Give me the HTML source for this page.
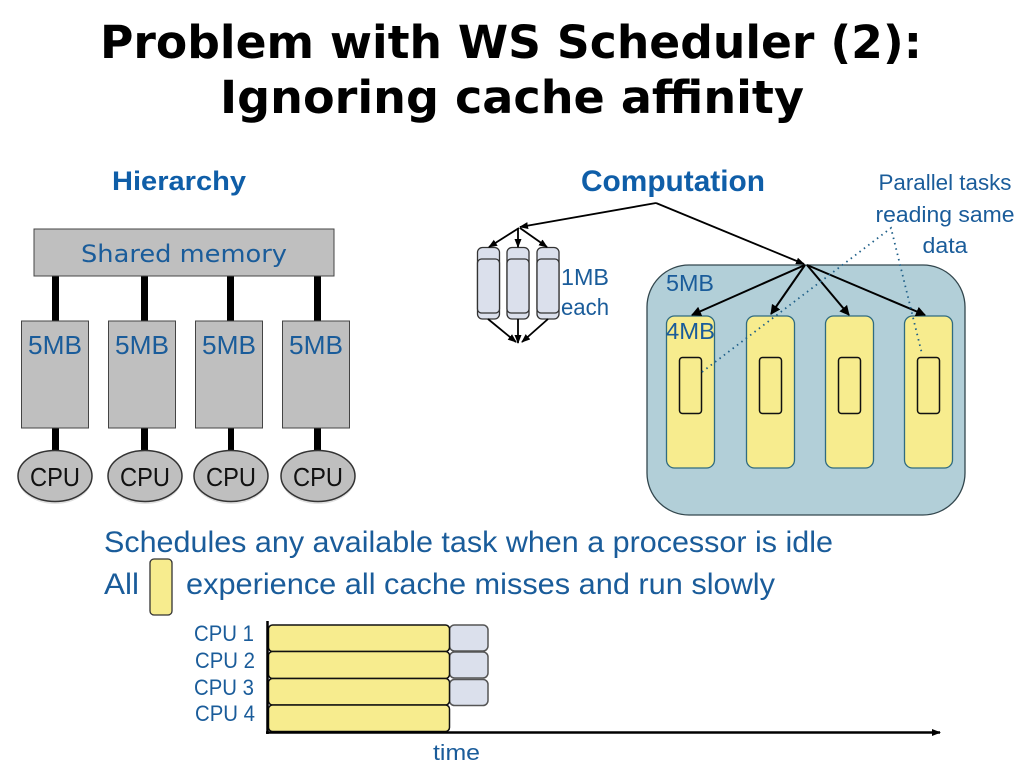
<!DOCTYPE html>
<html lang="en"><head><meta charset="utf-8"><title>Problem with WS Scheduler (2)</title>
<style>
html,body{margin:0;padding:0;background:#fff;width:1024px;height:768px;overflow:hidden}
svg{display:block}
text{font-family:"Liberation Sans",sans-serif;fill:#1a5c9a}
.t{font-family:"DejaVu Sans",sans-serif;font-weight:bold;font-size:45px;fill:#000}
.k{fill:#111}
</style></head><body>
<svg width="1024" height="768" viewBox="0 0 1024 768" xmlns="http://www.w3.org/2000/svg">
<defs>
<marker id="a" markerWidth="12" markerHeight="12" refX="9" refY="5" orient="auto" markerUnits="userSpaceOnUse"><path d="M0 0L10 5L0 10z" fill="#000"/></marker>
<marker id="s" markerWidth="10" markerHeight="10" refX="8" refY="4" orient="auto" markerUnits="userSpaceOnUse"><path d="M0 0.500L9 4L0 7.500z" fill="#000"/></marker>
</defs>
<text class="t" x="100" y="58" textLength="822" lengthAdjust="spacingAndGlyphs">Problem with WS Scheduler (2):</text>
<text class="t" x="220" y="113" textLength="584" lengthAdjust="spacingAndGlyphs">Ignoring cache affinity</text>

<text x="112" y="190" font-size="27" font-weight="bold" textLength="134" lengthAdjust="spacingAndGlyphs" style="fill:#0f5ea8">Hierarchy</text>
<text x="581" y="191" font-size="30" font-weight="bold" textLength="184" lengthAdjust="spacingAndGlyphs" style="fill:#0f5ea8">Computation</text>

<!-- Hierarchy -->
<g fill="#000">
<rect x="52" y="276" width="7" height="45"/><rect x="141" y="276" width="7" height="45"/><rect x="227" y="276" width="7" height="45"/><rect x="314" y="276" width="7" height="45"/>
<rect x="52" y="428" width="7" height="23"/><rect x="141" y="428" width="7" height="23"/><rect x="228" y="428" width="6" height="23"/><rect x="314" y="428" width="7" height="23"/>
</g>
<rect x="34" y="229" width="300" height="47" fill="#bfbfbf" stroke="#444" stroke-width="1"/>
<text x="81" y="262" font-size="24" textLength="206" lengthAdjust="spacingAndGlyphs" style="font-family:'DejaVu Sans',sans-serif">Shared memory</text>
<g fill="#bfbfbf" stroke="#444" stroke-width="1">
<rect x="21.500" y="321" width="67" height="107"/><rect x="108.500" y="321" width="67" height="107"/><rect x="195.500" y="321" width="67" height="107"/><rect x="282.500" y="321" width="67" height="107"/>
</g>
<g font-size="26">
<text x="28" y="354" textLength="54" lengthAdjust="spacingAndGlyphs">5MB</text>
<text x="115" y="354" textLength="54" lengthAdjust="spacingAndGlyphs">5MB</text>
<text x="202" y="354" textLength="54" lengthAdjust="spacingAndGlyphs">5MB</text>
<text x="289" y="354" textLength="54" lengthAdjust="spacingAndGlyphs">5MB</text>
</g>
<g fill="#000" opacity=".12">
<ellipse cx="55" cy="478" rx="37" ry="26"/><ellipse cx="145" cy="478" rx="37" ry="26"/><ellipse cx="231" cy="478" rx="37" ry="26"/><ellipse cx="318" cy="478" rx="37" ry="26"/>
</g>
<g fill="#bfbfbf" stroke="#333" stroke-width="1.500">
<ellipse cx="55" cy="476" rx="37" ry="25.500"/><ellipse cx="145" cy="476" rx="37" ry="25.500"/><ellipse cx="231" cy="476" rx="37" ry="25.500"/><ellipse cx="318" cy="476" rx="37" ry="25.500"/>
</g>
<g font-size="26">
<text class="k" x="30" y="486" textLength="50" lengthAdjust="spacingAndGlyphs">CPU</text>
<text class="k" x="120" y="486" textLength="50" lengthAdjust="spacingAndGlyphs">CPU</text>
<text class="k" x="206" y="486" textLength="50" lengthAdjust="spacingAndGlyphs">CPU</text>
<text class="k" x="293" y="486" textLength="50" lengthAdjust="spacingAndGlyphs">CPU</text>
</g>

<!-- Small tasks -->
<g fill="#dbe0ec" stroke="#333" stroke-width="1.300">
<rect x="477.500" y="247.500" width="22" height="71.500" rx="5"/><rect x="507" y="247.500" width="22" height="71.500" rx="5"/><rect x="537" y="247.500" width="22" height="71.500" rx="5"/>
<rect x="477.500" y="259" width="22" height="54" rx="4"/><rect x="507" y="259" width="22" height="54" rx="4"/><rect x="537" y="259" width="22" height="54" rx="4"/>
</g>
<g stroke="#000" stroke-width="1.800" fill="none">
<path d="M656 203L520 227" marker-end="url(#s)"/>
<path d="M519 228L489 247" marker-end="url(#s)"/>
<path d="M518 228V247" marker-end="url(#s)"/>
<path d="M520 228L547 247" marker-end="url(#s)"/>
<path d="M488 319L516 342" marker-end="url(#s)"/>
<path d="M518 319V343" marker-end="url(#s)"/>
<path d="M548 319L522 342" marker-end="url(#s)"/>
</g>
<text x="561" y="285" font-size="23" textLength="48" lengthAdjust="spacingAndGlyphs">1MB</text>
<text x="561" y="315" font-size="23" textLength="48" lengthAdjust="spacingAndGlyphs">each</text>

<!-- Computation -->
<rect x="647" y="265" width="318" height="250" rx="42" fill="#b2cfd8" stroke="#33474e" stroke-width="1.300"/>
<g fill="#f7ec8e" stroke="#2f6b80" stroke-width="1.300">
<rect x="666.500" y="316" width="48" height="152" rx="8"/><rect x="746.500" y="316" width="48" height="152" rx="8"/><rect x="825.500" y="316" width="48" height="152" rx="8"/><rect x="904.500" y="316" width="48" height="152" rx="8"/>
</g>
<g fill="#f7ec8e" stroke="#111" stroke-width="1.500">
<rect x="679.500" y="357.500" width="22" height="56" rx="3"/><rect x="759.500" y="357.500" width="22" height="56" rx="3"/><rect x="838.500" y="357.500" width="22" height="56" rx="3"/><rect x="917.500" y="357.500" width="22" height="56" rx="3"/>
</g>
<text x="666" y="291" font-size="23" textLength="48" lengthAdjust="spacingAndGlyphs">5MB</text>
<text x="666" y="339" font-size="23" textLength="49" lengthAdjust="spacingAndGlyphs">4MB</text>
<g stroke="#000" stroke-width="2" fill="none">
<path d="M656 203L804 264" marker-end="url(#s)" stroke-width="1.800"/>
<path d="M805 265L692 315" marker-end="url(#a)"/>
<path d="M805 265L771 314" marker-end="url(#a)"/>
<path d="M807 265L849 315" marker-end="url(#a)"/>
<path d="M807 265L925 315" marker-end="url(#a)"/>
</g>
<path d="M702 372L891 228L922 354" fill="none" stroke="#1f5f88" stroke-width="1.800" stroke-dasharray="1.500 4"/>
<g font-size="22" text-anchor="middle">
<text x="945" y="190" textLength="133" lengthAdjust="spacingAndGlyphs">Parallel tasks</text>
<text x="945" y="222" textLength="139" lengthAdjust="spacingAndGlyphs">reading same</text>
<text x="945" y="253" textLength="45" lengthAdjust="spacingAndGlyphs">data</text>
</g>

<!-- Body text -->
<text x="104" y="552" font-size="30" textLength="729" lengthAdjust="spacingAndGlyphs">Schedules any available task when a processor is idle</text>
<text x="104" y="594" font-size="30" textLength="35" lengthAdjust="spacingAndGlyphs">All</text>
<rect x="150" y="559" width="22" height="56" rx="4" fill="#f7ec8e" stroke="#333" stroke-width="1.300"/>
<text x="186" y="594" font-size="30" textLength="589" lengthAdjust="spacingAndGlyphs">experience all cache misses and run slowly</text>

<!-- Timeline -->
<g fill="#dbe0ec" stroke="#555" stroke-width="1.500">
<rect x="449.500" y="625" width="38.500" height="26" rx="5"/><rect x="449.500" y="652" width="38.500" height="26" rx="5"/><rect x="449.500" y="679.500" width="38.500" height="26" rx="5"/>
</g>
<g fill="#f7ec8e" stroke="#111" stroke-width="1.500">
<rect x="268.500" y="625" width="181" height="26.500" rx="4"/><rect x="268.500" y="651.500" width="181" height="27" rx="4"/><rect x="268.500" y="678.500" width="181" height="26.500" rx="4"/><rect x="268.500" y="705" width="181" height="26.500" rx="4"/>
</g>
<path d="M267.500 621V734" stroke="#000" stroke-width="2.500"/>
<path d="M266 732.500H940" stroke="#000" stroke-width="2.500" marker-end="url(#s)"/>
<g font-size="22">
<text x="194" y="641" textLength="60" lengthAdjust="spacingAndGlyphs">CPU 1</text>
<text x="195" y="668" textLength="60" lengthAdjust="spacingAndGlyphs">CPU 2</text>
<text x="194" y="695" textLength="60" lengthAdjust="spacingAndGlyphs">CPU 3</text>
<text x="195" y="721" textLength="60" lengthAdjust="spacingAndGlyphs">CPU 4</text>
<text x="433" y="760" textLength="47" lengthAdjust="spacingAndGlyphs">time</text>
</g>
</svg>
</body></html>
